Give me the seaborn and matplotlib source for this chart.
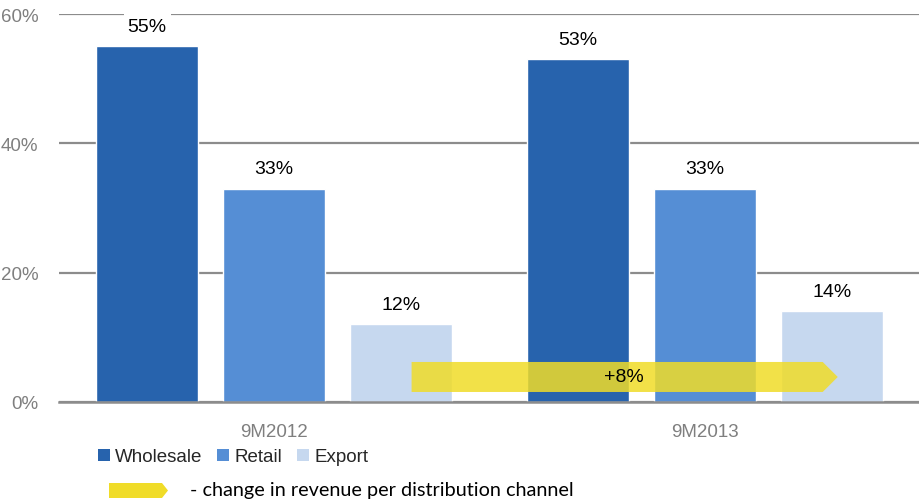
import matplotlib
matplotlib.use("Agg")
import matplotlib.pyplot as plt
from matplotlib.patches import Polygon, Patch
import seaborn as sns
import pandas as pd

periods = ["9M2012", "9M2013"]
channels = ["Wholesale", "Retail", "Export"]
wholesale = [55, 53]
retail = [33, 33]
export = [12, 14]
channel_colors = ["#2763AD", "#558ED5", "#C6D8EF"]
change_label = "+8%"
y_ticks = [0, 20, 40, 60]

rows = []
for name, vals in zip(channels, [wholesale, retail, export]):
    for p, v in zip(periods, vals):
        rows.append({"period": p, "channel": name, "share": v})
df = pd.DataFrame(rows)

sns.set_style("white")
plt.rcParams["font.family"] = ["Liberation Sans", "DejaVu Sans"]

fig = plt.figure(figsize=(9.2, 5.02), dpi=100)
ax = fig.add_axes([59 / 920, 1 - 403 / 502, 861 / 920, 388 / 502])

sns.barplot(data=df, x="period", y="share", hue="channel", order=periods,
            hue_order=channels, palette=channel_colors, width=0.885, gap=0.2,
            saturation=1, legend=False, ax=ax, zorder=2)

ax.set_xlim(-0.5, 1.5)
ax.set_ylim(0, 60)
ax.set_yticks(y_ticks)
ax.set_yticklabels([f"{v}%" for v in y_ticks])
ax.yaxis.grid(True, color="#8C8C8C", linewidth=1.6, zorder=0)
ax.set_axisbelow(True)
for s in ["top", "right", "left"]:
    ax.spines[s].set_visible(False)
ax.spines["bottom"].set_color("#8C8C8C")
ax.spines["bottom"].set_linewidth(1.8)
ax.spines["bottom"].set_zorder(3)
ax.tick_params(axis="y", length=0, pad=15, labelsize=13.5, labelcolor="#7F7F7F")
ax.tick_params(axis="x", length=0, pad=15, labelsize=13.5, labelcolor="#7F7F7F")
ax.set_xlabel("")
ax.set_ylabel("")

for cont in ax.containers:
    ax.bar_label(cont, labels=[f"{int(round(b.get_height()))}%" for b in cont],
                 padding=8, fontsize=14, color="black",
                 bbox=dict(facecolor="white", edgecolor="none", pad=3))

# change arrow across both periods
x0, x1, xtip = 0.319, 1.274, 1.309
y0, y1 = 1.55, 6.19
ym = (y0 + y1) / 2
arrow = Polygon([(x0, y0), (x1, y0), (xtip, ym), (x1, y1), (x0, y1)],
                closed=True, facecolor="#F0DC28", edgecolor="none",
                alpha=0.85, zorder=4)
ax.add_patch(arrow)
ax.text((x0 + x1) / 2 + 0.015, ym, change_label, ha="center", va="center",
        fontsize=14, color="black", zorder=5)

# legend for channels
handles = [Patch(facecolor=c, edgecolor="none", label=n)
           for c, n in zip(channel_colors, channels)]
fig.legend(handles=handles, loc="center left", bbox_to_anchor=(98 / 920, 1 - 458 / 502),
           ncol=3, frameon=False, fontsize=13.5,
           handlelength=0.64, handleheight=0.64,
           handletextpad=0.27, columnspacing=0.8, borderpad=0, borderaxespad=0)

# legend for the arrow
fx0, fx1, fxt = 109 / 920, 162 / 920, 168 / 920
fy0, fy1 = 1 - 499 / 502, 1 - 484 / 502
fig.patches.append(Polygon([(fx0, fy0), (fx1, fy0), (fxt, (fy0 + fy1) / 2), (fx1, fy1), (fx0, fy1)],
                           closed=True, facecolor="#F0DC28", edgecolor="none",
                           transform=fig.transFigure, figure=fig))
fig.text(190 / 920, 1 - 491 / 502, "- change in revenue per distribution channel",
         ha="left", va="center", fontsize=14.3, family=["Lato", "DejaVu Sans"], color="black")

fig.savefig("out.png", dpi=100)
